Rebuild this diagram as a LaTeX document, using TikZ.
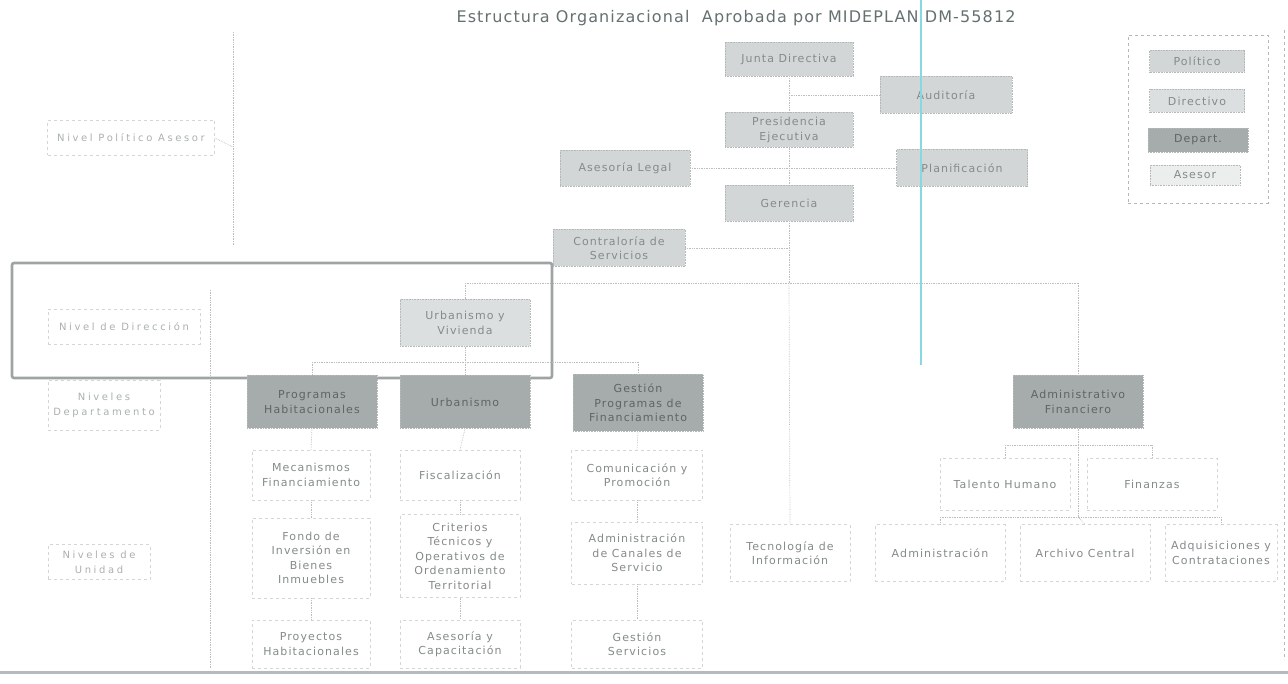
\documentclass[tikz,border=0pt]{standalone}
\usepackage{fontspec}
\setmainfont{DejaVu Sans}
\newfontfamily\boxf[LetterSpace=10]{DejaVu Sans}
\newfontfamily\titlef[LetterSpace=7]{DejaVu Sans}
\newfontfamily\lvlf[LetterSpace=26]{DejaVu Sans}
\definecolor{txtc}{HTML}{848B8B}
\definecolor{deptxt}{HTML}{5E6565}
\definecolor{titlec}{HTML}{657070}
\definecolor{polc}{HTML}{D3D6D6}
\definecolor{dirc}{HTML}{DCDFDF}
\definecolor{depc}{HTML}{A6ABAB}
\definecolor{asec}{HTML}{ECEEEE}
\definecolor{bordc}{HTML}{B3B8B8}
\definecolor{unitc}{HTML}{D2D6D6}
\definecolor{connc}{HTML}{B9BEBE}
\definecolor{highc}{HTML}{9EA3A3}
\definecolor{cyanc}{HTML}{86D9DF}
\definecolor{lvltxt}{HTML}{A9B0B0}
\begin{document}
\begin{tikzpicture}[x=1pt,y=-1pt,
  every node/.style={font=\boxf\fontsize{11}{14.5}\selectfont, text=txtc},
  box/.style={rectangle, draw=bordc, densely dotted, line width=0.6pt, align=center, inner sep=2pt},
  pol/.style={box, fill=polc},
  dirbox/.style={box, fill=dirc},
  dep/.style={box, fill=depc, text=deptxt},
  asebox/.style={box, fill=asec},
  unit/.style={rectangle, draw=unitc, dashed, line width=0.5pt, align=center, fill=white, inner sep=2pt},
  lvl/.style={rectangle, draw=unitc, dashed, line width=0.5pt, align=center, font=\lvlf\fontsize{10}{15}\selectfont, text=lvltxt},
  conn/.style={draw=connc, densely dotted, line width=0.7pt}]
\useasboundingbox (0,0) rectangle (1288,684);

% title
\node[font=\titlef\fontsize{16}{18}\selectfont, text=titlec] (title) at (736,18) {Estructura Organizacional\ \ Aprobada por MIDEPLAN DM-55812};

% frame lines
\draw[draw=connc, densely dotted, line width=0.7pt] (233,32) -- (233,245);
\draw[draw=connc, densely dotted, line width=0.7pt] (210,290) -- (210,668);
\draw[draw=bordc, dashed, line width=0.6pt] (1284,30) -- (1284,660);
\draw[draw=highc!75, line width=3pt] (0,672) -- (1288,672);

% level labels
\node[lvl, minimum width=167pt, minimum height=35pt] (nivpol) at (131,138) {Nivel Político Asesor};
\node[lvl, minimum width=152pt, minimum height=35pt] (nivdir) at (124,327) {Nivel de Dirección};
\node[lvl, minimum width=112pt, minimum height=50pt] (nivdep) at (104,405) {Niveles\\Departamento};
\node[lvl, minimum width=102pt, minimum height=35pt] (nivuni) at (99,562) {Niveles de\\Unidad};
\coordinate (nivpolj) at (233,147);
\draw[conn] (nivpol.east) -- (nivpolj);

% top level
\node[pol, minimum width=128pt, minimum height=34pt] (junta) at (789,59) {Junta Directiva};
\node[pol, minimum width=132pt, minimum height=37pt] (audit) at (946,95) {Auditoría};
\node[pol, minimum width=128pt, minimum height=35pt] (pres) at (789,130) {Presidencia\\Ejecutiva};
\node[pol, minimum width=130pt, minimum height=36pt] (aseslegal) at (625,168) {Asesoría Legal};
\node[pol, minimum width=131pt, minimum height=37pt] (planif) at (962,168) {Planificación};
\node[pol, minimum width=128pt, minimum height=36pt] (geren) at (789,203) {Gerencia};
\node[pol, minimum width=132pt, minimum height=37pt] (contral) at (619,248) {Contraloría de\\Servicios};

% legend
\node[rectangle, draw=bordc, dashed, line width=0.6pt, minimum width=140pt, minimum height=168pt] (legend) at (1198,119) {};
\node[pol, minimum width=95pt, minimum height=22pt] (legpol) at (1197,61) {Político};
\node[dirbox, minimum width=95pt, minimum height=23pt] (legdir) at (1197,101) {Directivo};
\node[dep, minimum width=100pt, minimum height=24pt] (legdep) at (1198,140) {Depart.};
\node[asebox, minimum width=90pt, minimum height=20pt] (legase) at (1195,175) {Asesor};

% connectors top
\coordinate (audj) at (789,95);
\coordinate (ctj) at (789,248);
\coordinate (bus) at (789,283);
\coordinate (busL) at (465,283);
\coordinate (busR) at (1078,283);
\draw[conn] (junta) -- (pres);
\draw[conn] (pres) -- (geren);
\draw[conn] (audj) -- (audit.west);
\draw[conn] (aseslegal.east) -- (planif.west);
\draw[conn] (contral.east) -- (ctj);
\draw[conn] (geren.south) -- (bus);
\draw[conn] (busL) -- (busR);

% highlight frame
\draw[draw=highc, line width=2.6pt, rounded corners=2pt] (12,263) rectangle (552,378);

% direction
\node[dirbox, minimum width=130pt, minimum height=47pt] (urbviv) at (465,323) {Urbanismo y\\Vivienda};

% departments
\node[dep, minimum width=130pt, minimum height=53pt] (proghab) at (312,402) {Programas\\Habitacionales};
\node[dep, minimum width=130pt, minimum height=53pt] (urban) at (465,402) {Urbanismo};
\node[dep, minimum width=130pt, minimum height=57pt] (gestprog) at (638,403) {Gestión\\Programas de\\Financiamiento};
\node[dep, minimum width=130pt, minimum height=53pt] (adminfin) at (1078,402) {Administrativo\\Financiero};

% units
\node[unit, minimum width=118pt, minimum height=50pt] (mecan) at (311,475) {Mecanismos\\Financiamiento};
\node[unit, minimum width=118pt, minimum height=80pt] (fondo) at (311,558) {Fondo de\\Inversión en\\Bienes\\Inmuebles};
\node[unit, minimum width=118pt, minimum height=48pt] (proyhab) at (311,644) {Proyectos\\Habitacionales};
\node[unit, minimum width=120pt, minimum height=50pt] (fiscal) at (460,475) {Fiscalización};
\node[unit, minimum width=120pt, minimum height=83pt] (criter) at (460,556) {Criterios\\Técnicos y\\Operativos de\\Ordenamiento\\Territorial};
\node[unit, minimum width=120pt, minimum height=48pt] (asescap) at (460,644) {Asesoría y\\Capacitación};
\node[unit, minimum width=131pt, minimum height=50pt] (comun) at (637,475) {Comunicación y\\Promoción};
\node[unit, minimum width=131pt, minimum height=62pt] (admcan) at (637,553) {Administración\\de Canales de\\Servicio};
\node[unit, minimum width=131pt, minimum height=48pt] (gestserv) at (637,644) {Gestión\\Servicios};
\node[unit, minimum width=120pt, minimum height=57pt] (tecinfo) at (790,553) {Tecnología de\\Información};
\node[unit, minimum width=130pt, minimum height=52pt] (talento) at (1005,484) {Talento Humano};
\node[unit, minimum width=130pt, minimum height=52pt] (finanz) at (1152,484) {Finanzas};
\node[unit, minimum width=130pt, minimum height=57pt] (admin) at (940,553) {Administración};
\node[unit, minimum width=130pt, minimum height=57pt] (archivo) at (1085,553) {Archivo Central};
\node[unit, minimum width=112pt, minimum height=57pt] (adquis) at (1221,553) {Adquisiciones y\\Contrataciones};

% connectors lower
\coordinate (b2L) at (312,362);
\coordinate (b2M) at (465,362);
\coordinate (b2R) at (638,362);
\draw[conn] (busL) -- (urbviv.north);
\draw[conn] (busR) -- (adminfin.north);
\draw[conn] (bus) -- (tecinfo.north);
\draw[conn] (urbviv.south) -- (b2M);
\draw[conn] (b2L) -- (b2R);
\draw[conn] (b2L) -- (proghab.north);
\draw[conn] (b2M) -- (urban.north);
\draw[conn] (b2R) -- (gestprog.north);
\draw[conn] (proghab.south) -- (mecan.north);
\draw[conn] (mecan.south) -- (fondo.north);
\draw[conn] (fondo.south) -- (proyhab.north);
\draw[conn] (urban.south) -- (fiscal.north);
\draw[conn] (fiscal.south) -- (criter.north);
\draw[conn] (criter.south) -- (asescap.north);
\draw[conn] (gestprog.south) -- (comun.north);
\draw[conn] (comun.south) -- (admcan.north);
\draw[conn] (admcan.south) -- (gestserv.north);
\coordinate (af1) at (1078,445);
\coordinate (af1L) at (1005,445);
\coordinate (af1R) at (1152,445);
\coordinate (af2) at (1078,517);
\coordinate (af2L) at (940,517);
\coordinate (af2R) at (1221,517);
\draw[conn] (adminfin.south) -- (af1);
\draw[conn] (af1L) -- (af1R);
\draw[conn] (af1L) -- (talento.north);
\draw[conn] (af1R) -- (finanz.north);
\draw[conn] (af1) -- (af2);
\draw[conn] (af2L) -- (af2R);
\draw[conn] (af2L) -- (admin.north);
\draw[conn] (af2) -- (archivo.north);
\draw[conn] (af2R) -- (adquis.north);

% cyan scan line
\draw[draw=cyanc, line width=1.3pt] (921,0) -- (921,365);
\end{tikzpicture}
\end{document}
